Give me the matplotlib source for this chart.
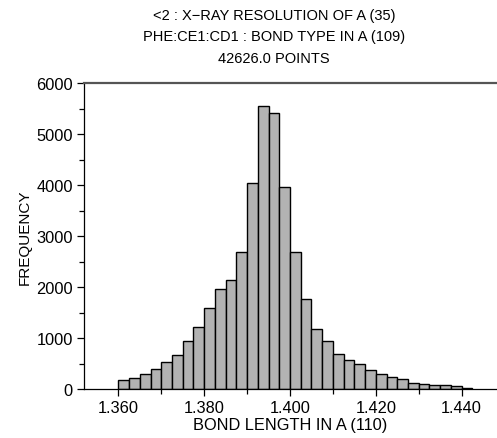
import matplotlib
matplotlib.use("Agg")
import matplotlib.pyplot as plt
import numpy as np
from matplotlib.ticker import MultipleLocator, FormatStrFormatter

plt.rcParams['font.family'] = ['Liberation Sans', 'DejaVu Sans']

bin_start = 1.360
bin_width = 0.0025
counts = [189, 228, 290, 395, 542, 663, 950, 1214, 1586, 1958, 2141, 2696,
          4045, 5548, 5405, 3972, 2696, 1775, 1175, 953, 698, 568, 496, 372,
          307, 248, 196, 124, 111, 91, 85, 65, 33]
title_lines = ["<2 : X\u2212RAY RESOLUTION OF A (35)",
               "PHE:CE1:CD1 : BOND TYPE IN A (109)",
               "42626.0 POINTS"]
xlabel = "BOND LENGTH IN A (110)"
ylabel = "FREQUENCY"

edges = bin_start + bin_width * np.arange(len(counts))

fig = plt.figure(figsize=(4.97, 4.39), dpi=100)
ax = fig.add_axes([84/497, 48.7/439, 412/497, 306.3/439])
ax.bar(edges, counts, width=bin_width, align='edge', color='#b3b3b3',
       edgecolor='black', linewidth=1.0)

ax.set_xlim(1.352, 1.448)
ax.set_ylim(0, 6000)
ax.xaxis.set_major_locator(MultipleLocator(0.02))
ax.xaxis.set_minor_locator(MultipleLocator(0.01))
ax.xaxis.set_major_formatter(FormatStrFormatter('%.3f'))
ax.yaxis.set_major_locator(MultipleLocator(1000))
ax.yaxis.set_minor_locator(MultipleLocator(500))
ax.tick_params(axis='both', which='major', length=5, width=0.9, labelsize=11.8, pad=3)
ax.tick_params(axis='both', which='minor', length=3.5, width=0.9)

ax.spines['right'].set_visible(False)
ax.spines['top'].set_color('#555555')
ax.spines['top'].set_linewidth(1.6)
ax.spines['left'].set_linewidth(0.9)
ax.spines['bottom'].set_linewidth(0.9)

ax.set_xlabel(xlabel, fontsize=11.8, labelpad=1)
ax.set_ylabel(ylabel, fontsize=11, labelpad=3)

for i, t in enumerate(title_lines):
    fig.text(274/497, 1 - (16 + 21.5*i)/439, t, ha='center', va='center', fontsize=10.5)

fig.savefig("out.png", dpi=100)
